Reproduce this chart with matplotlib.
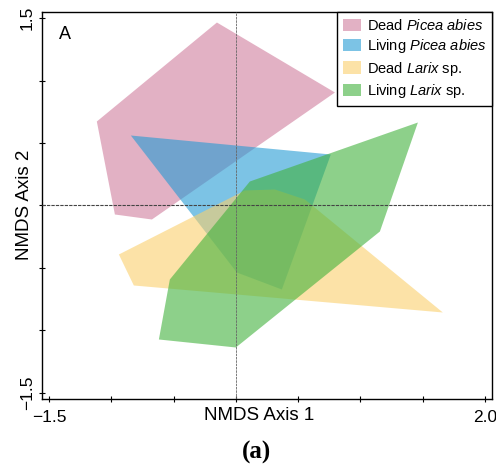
import matplotlib
matplotlib.use("Agg")
import matplotlib.pyplot as plt

# -------------------------------
# Data: hull vertices (NMDS axis 1, NMDS axis 2)
# -------------------------------
dead_picea_x = [-0.152, 0.795, -0.674, -0.971, -1.116]
dead_picea_y = [1.464, 0.904, -0.112, -0.072, 0.672]

living_picea_x = [-0.843, 0.762, 0.369, 0.008]
living_picea_y = [0.560, 0.408, -0.672, -0.536]

dead_larix_x = [-0.939, -0.819, 1.661, 0.554, 0.313, 0.072]
dead_larix_y = [-0.392, -0.640, -0.856, 0.048, 0.128, 0.120]

living_larix_x = [1.461, 0.112, -0.530, -0.618, 0.0, 1.156]
living_larix_y = [0.664, 0.192, -0.592, -1.072, -1.136, -0.208]

group_labels = [
    r"Dead $\mathit{Picea\ abies}$",
    r"Living $\mathit{Picea\ abies}$",
    r"Dead $\mathit{Larix}$ sp.",
    r"Living $\mathit{Larix}$ sp.",
]
group_colors = ["#d07d9d", "#259bd4", "#fad06c", "#41b23c"]

x_ticks = [-1.5, -1.0, -0.5, 0.0, 0.5, 1.0, 1.5, 2.0]
x_ticklabels = ["\u22121.5", "", "", "", "", "", "", "2.0"]
y_ticks = [-1.5, -1.0, -0.5, 0.0, 0.5, 1.0, 1.5]
y_ticklabels = ["\u22121.5", "", "", "", "", "", "1.5"]

# -------------------------------
# Style
# -------------------------------
plt.rcParams["font.family"] = ["Liberation Sans", "DejaVu Sans"]
plt.rcParams["mathtext.fontset"] = "custom"
plt.rcParams["mathtext.rm"] = "Liberation Sans"
plt.rcParams["mathtext.it"] = "Liberation Sans:italic"

fig = plt.figure(figsize=(4.96, 4.71), dpi=100)
ax = fig.add_axes([0.0847, 0.1529, 0.9073, 0.8216])

polys = [
    (dead_picea_x, dead_picea_y),
    (living_picea_x, living_picea_y),
    (dead_larix_x, dead_larix_y),
    (living_larix_x, living_larix_y),
]
for (px, py), lab, col in zip(polys, group_labels, group_colors):
    ax.fill(px, py, color=col, alpha=0.6, lw=0, label=lab)

# zero reference lines
ax.axhline(0, color="#444444", lw=0.8, ls=(0, (3, 1)), zorder=5)
ax.axvline(0, color="#666666", lw=0.6, ls=(0, (3, 1)), zorder=5)

ax.set_xlim(-1.556, 2.056)
ax.set_ylim(-1.548, 1.548)
ax.set_xticks(x_ticks)
ax.set_xticklabels(x_ticklabels)
ax.set_yticks(y_ticks)
ax.set_yticklabels(y_ticklabels, rotation=90, va="center")
ax.tick_params(direction="inout", length=4, width=0.8, labelsize=12.5, pad=6)
ax.tick_params(axis="y", pad=3)
for s in ax.spines.values():
    s.set_linewidth(1.0)

ax.set_xlabel("NMDS Axis 1", fontsize=13.5)
ax.xaxis.set_label_coords(0.482, -0.022)
ax.set_ylabel("NMDS Axis 2", fontsize=13.5)
ax.yaxis.set_label_coords(-0.02, 0.501)

ax.text(0.05, 0.943, "A", transform=ax.transAxes, fontsize=13,
        ha="center", va="center")

leg = ax.legend(loc="upper right", bbox_to_anchor=(1, 1), borderaxespad=0,
                fontsize=10.5, fancybox=False, edgecolor="black",
                framealpha=1, handlelength=1.25, handleheight=0.95,
                handletextpad=0.4, labelspacing=0.3, borderpad=0.4)
leg.get_frame().set_linewidth(1.0)

fig.text(0.518, 0.04, "(a)", fontsize=18, fontweight="bold",
         family="Liberation Serif", ha="center", va="center")

plt.savefig("out.png", dpi=100)
plt.close()
